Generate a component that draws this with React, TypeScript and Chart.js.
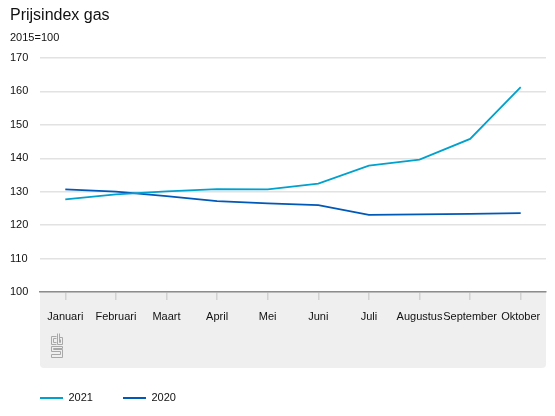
import React, { useEffect, useRef } from "react";
import { Chart, registerables } from "chart.js";

Chart.register(...registerables);

const months = ["Januari", "Februari", "Maart", "April", "Mei", "Juni", "Juli", "Augustus", "September", "Oktober"];
const values2021 = [127.7, 129.2, 130.1, 130.8, 130.7, 132.4, 137.8, 139.6, 145.8, 161.3];
const values2020 = [130.7, 130.0, 128.7, 127.2, 126.5, 126.0, 123.1, 123.2, 123.4, 123.6];
const yMin = 100;
const yMax = 170;
const yStep = 10;
const titleText = "Prijsindex gas";
const subtitleText = "2015=100";
const color2021 = "#00a1cd";
const color2020 = "#0058b8";

const FONT = "Arial, 'Liberation Sans', Helvetica, sans-serif";

const panelPlugin = {
  id: "panel",
  beforeDraw(chart: any) {
    const { ctx, chartArea } = chart;
    const x0 = chartArea.left;
    const x1 = chartArea.right;
    const y0 = chartArea.bottom;
    const y1 = y0 + 76;
    const r = 4;
    ctx.save();
    ctx.fillStyle = "#efefef";
    ctx.beginPath();
    ctx.moveTo(x0, y0);
    ctx.lineTo(x1, y0);
    ctx.lineTo(x1, y1 - r);
    ctx.quadraticCurveTo(x1, y1, x1 - r, y1);
    ctx.lineTo(x0 + r, y1);
    ctx.quadraticCurveTo(x0, y1, x0, y1 - r);
    ctx.closePath();
    ctx.fill();
    // small logo mark
    const lx = x0 + 11;
    const ly = y0 + 41;
    ctx.strokeStyle = "#a8a8a8";
    ctx.lineWidth = 1;
    ctx.beginPath();
    // c
    ctx.moveTo(lx + 5.5, ly + 3.5); ctx.lineTo(lx + 0.5, ly + 3.5); ctx.lineTo(lx + 0.5, ly + 11.5); ctx.lineTo(lx + 5.5, ly + 11.5);
    ctx.moveTo(lx + 5.5, ly + 5.5); ctx.lineTo(lx + 2.5, ly + 5.5); ctx.lineTo(lx + 2.5, ly + 9.5); ctx.lineTo(lx + 5.5, ly + 9.5);
    // b
    ctx.moveTo(lx + 6.5, ly + 0.5); ctx.lineTo(lx + 6.5, ly + 11.5); ctx.lineTo(lx + 11.5, ly + 11.5); ctx.lineTo(lx + 11.5, ly + 4.5); ctx.lineTo(lx + 8.5, ly + 4.5);
    ctx.moveTo(lx + 8.5, ly + 0.5); ctx.lineTo(lx + 8.5, ly + 9.5); ctx.lineTo(lx + 9.5, ly + 9.5); ctx.lineTo(lx + 9.5, ly + 6.5);
    // s
    ctx.moveTo(lx + 11.5, ly + 13.5); ctx.lineTo(lx + 0.5, ly + 13.5); ctx.lineTo(lx + 0.5, ly + 18.5); ctx.lineTo(lx + 9.5, ly + 18.5); ctx.lineTo(lx + 9.5, ly + 21.5); ctx.lineTo(lx + 0.5, ly + 21.5); ctx.lineTo(lx + 0.5, ly + 24.5); ctx.lineTo(lx + 11.5, ly + 24.5); ctx.lineTo(lx + 11.5, ly + 16.5); ctx.lineTo(lx + 2.5, ly + 16.5); ctx.lineTo(lx + 2.5, ly + 15.5); ctx.lineTo(lx + 11.5, ly + 15.5); ctx.lineTo(lx + 11.5, ly + 13.5);
    ctx.stroke();
    ctx.restore();
  },
};

export default function App() {
  const ref = useRef<HTMLCanvasElement | null>(null);
  useEffect(() => {
    if (!ref.current) return;
    Chart.defaults.font.family = FONT;
    Chart.defaults.color = "#1a1a1a";
    const chart = new Chart(ref.current, {
      type: "line",
      data: {
        labels: months,
        datasets: [
          {
            label: "2021",
            data: values2021,
            borderColor: color2021,
            backgroundColor: color2021,
            borderWidth: 1.8,
            pointRadius: 0,
            tension: 0,
          },
          {
            label: "2020",
            data: values2020,
            borderColor: color2020,
            backgroundColor: color2020,
            borderWidth: 1.8,
            pointRadius: 0,
            tension: 0,
          },
        ],
      },
      options: {
        responsive: false,
        animation: false,
        layout: { padding: { left: 10, right: 9, top: 0, bottom: 2.5 } },
        plugins: {
          title: {
            display: true,
            text: titleText,
            align: "start",
            color: "#111",
            font: { size: 16, weight: "normal", family: FONT },
            padding: { top: 6, bottom: 4 },
          },
          subtitle: {
            display: true,
            text: subtitleText,
            align: "start",
            color: "#111",
            font: { size: 11, weight: "normal", family: FONT },
            padding: { top: 2, bottom: 13.6 },
          },
          legend: {
            display: true,
            position: "bottom",
            align: "start",
            labels: {
              boxWidth: 23,
              boxHeight: 0,
              padding: 30,
              color: "#111",
              font: { size: 11, family: FONT },
            },
          },
          tooltip: { enabled: false },
        },
        scales: {
          x: {
            offset: true,
            grid: {
              display: true,
              drawOnChartArea: false,
              drawTicks: true,
              tickLength: 8,
              offset: false,
              color: "#d2d2d2",
              lineWidth: 1.5,
            },
            border: { display: true, color: "#8c8c8c", width: 1.5 },
            ticks: {
              padding: 10,
              maxRotation: 0,
              autoSkip: false,
              color: "#111",
              font: { size: 11, family: FONT },
            },
            afterFit: (s: any) => {
              s.height = 70.5;
            },
          },
          y: {
            min: yMin,
            max: yMax,
            grid: { color: "#e2e2e2", lineWidth: 1.5, drawTicks: false },
            border: { display: false },
            ticks: {
              stepSize: yStep,
              crossAlign: "far",
              padding: 0,
              color: "#111",
              font: { size: 11, family: FONT },
            },
            afterFit: (s: any) => {
              s.width = 30;
            },
          },
        },
      },
      plugins: [panelPlugin],
    });
    return () => chart.destroy();
  }, []);
  return (
    <div style={{ position: "fixed", left: 0, top: 0, width: 555, height: 416, background: "#fff" }}>
      <canvas ref={ref} width={555} height={416} style={{ display: "block", width: 555, height: 416 }} />
    </div>
  );
}
